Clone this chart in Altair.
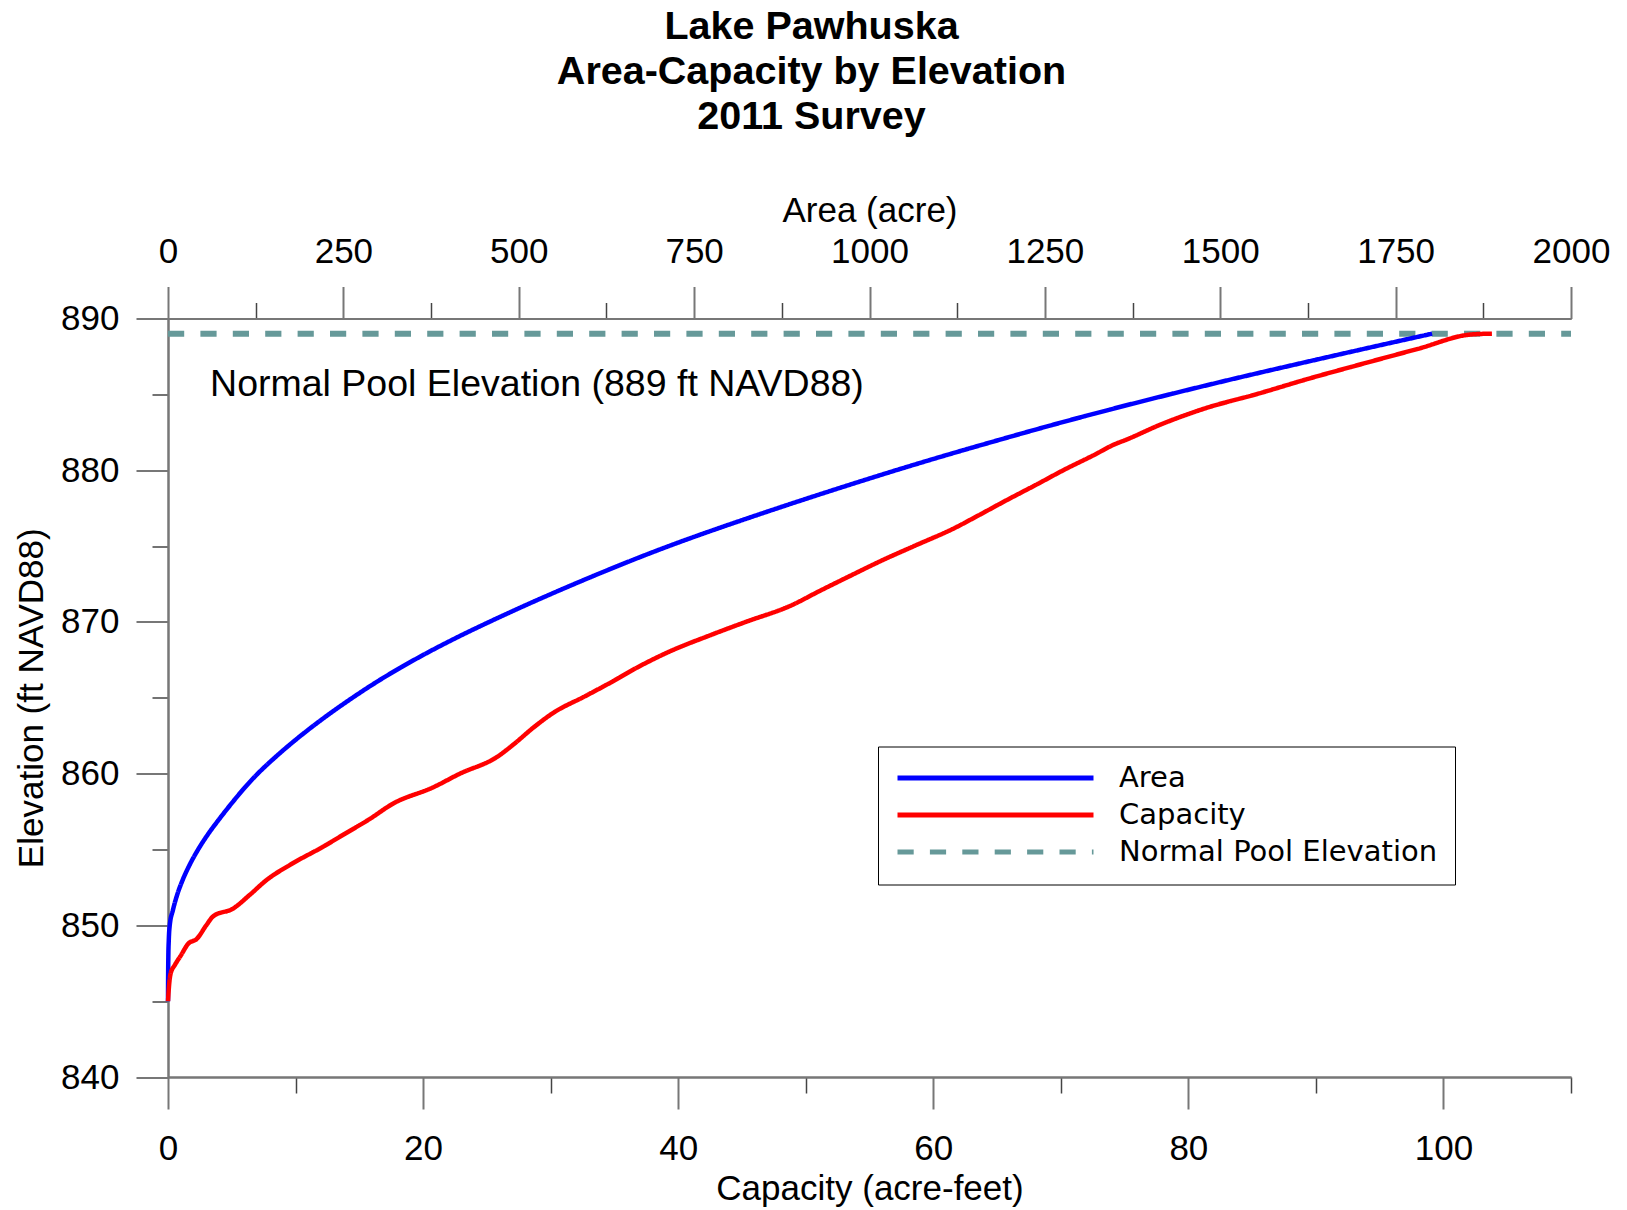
import altair as alt
import pandas as pd

# ---------------- data ----------------
title_lines = ["Lake Pawhuska", "Area-Capacity by Elevation", "2011 Survey"]
series_names = ["Area", "Capacity", "Normal Pool Elevation"]
series_colors = ["#0000ff", "#ff0000", "#669999"]

elev_area = [845, 846, 847, 848, 849, 850, 851, 852, 853, 854, 855, 856, 857, 858, 859,
             860, 861, 862, 863, 864, 865, 866, 867, 868, 869, 870, 871, 872, 873, 874,
             875, 876, 877, 878, 879, 880, 881, 882, 883, 884, 885, 886, 887, 888, 889]
area_vals = [0, 0.1, 0.25, 0.5, 1.1, 2.5, 7, 13, 21, 31, 43, 57, 73, 90, 108,
             128, 151, 176, 203, 232, 263, 296, 332, 371, 413, 458, 505, 554, 605, 658,
             714, 774, 837, 902, 969, 1038, 1110, 1185, 1262, 1343, 1428, 1517, 1610, 1705, 1802]

elev_cap = [845, 846, 846.8, 847.4, 848, 848.8, 849.1, 850, 850.6, 851.1,
            852, 853, 854, 855.2, 856, 857, 858, 859.1, 860, 861.1,
            862, 863, 864, 865.1, 866, 867, 868, 869.15, 870, 871.1,
            872, 873, 874.1, 875, 876.2, 877, 878, 879.1, 880, 881,
            881.7, 882, 883, 884.1, 885, 886, 887, 888, 888.95, 889]
cap_vals = [0, 0.08, 0.2, 0.55, 1.0, 1.6, 2.25, 3.0, 3.55, 5.1,
            6.4, 7.75, 9.6, 12.2, 13.8, 15.8, 17.6, 20.8, 22.9, 25.8,
            27.2, 28.6, 30.2, 32.7, 34.7, 36.8, 39.2, 42.6, 45.3, 48.9,
            51.0, 53.4, 56.1, 58.5, 61.7, 63.5, 65.7, 68.2, 70.2, 72.6,
            74.2, 75.1, 77.8, 81.4, 85.3, 89.3, 93.6, 98.0, 102.2, 103.8]

pool_elev = 889
pool_cap = [0, 110]
pool_label = "Normal Pool Elevation (889 ft NAVD88)"
pool_label_pos = (3.3, 885.6)  # capacity, elevation

cap_ticks = [0, 20, 40, 60, 80, 100]
cap_minor = [10, 30, 50, 70, 90, 110]
area_ticks = [0, 250, 500, 750, 1000, 1250, 1500, 1750, 2000]
area_minor = [125, 375, 625, 875, 1125, 1375, 1625, 1875]
elev_ticks = [840, 850, 860, 870, 880, 890]
elev_minor = [845, 855, 865, 875, 885]

# ---------------- tables ----------------
area_df = pd.DataFrame({"elev": elev_area, "area": area_vals, "series": series_names[0]})
cap_df = pd.DataFrame({"elev": elev_cap, "capacity": cap_vals, "series": series_names[1]})
pool_df = pd.DataFrame({"capacity": pool_cap, "elev": [pool_elev] * len(pool_cap),
                        "series": series_names[2]})
note_df = pd.DataFrame({"label": [pool_label]})

FONT = "Liberation Sans"
AX = "#777777"
FS = 35

cap_scale = alt.Scale(domain=[0, 110], nice=False, zero=False)
area_scale = alt.Scale(domain=[0, 2000], nice=False, zero=False)
y_scale = alt.Scale(domain=[840, 890], nice=False, zero=False)


def major_axis(orient, values, title, label_pad, title_pad):
    return alt.Axis(orient=orient, values=values, title=title, tickSize=32, tickWidth=2,
                    tickColor=AX, domainColor=AX, domainWidth=2, grid=False,
                    labelFont=FONT, labelFontSize=FS, labelColor="black",
                    labelPadding=label_pad, labelFlush=False, labelOverlap=False,
                    titleFont=FONT, titleFontSize=FS, titleFontWeight="normal",
                    titleColor="black", titlePadding=title_pad, format="d")


def minor_axis(orient, values):
    return alt.Axis(orient=orient, values=values, title=None, tickSize=16, tickWidth=1.5,
                    tickColor="#444444", domainColor=AX, domainWidth=2, grid=False,
                    labels=False)


legend = alt.Legend(title=None, orient="none", legendX=710, legendY=428,
                    symbolType="stroke", symbolSize=38416, symbolStrokeWidth=5,
                    clipHeight=29, labelFont="DejaVu Sans", labelFontSize=29,
                    labelColor="black", labelOffset=23, labelLimit=900, rowPadding=7,
                    padding=17, strokeColor="black", fillColor="white")

color = alt.Color("series:N", scale=alt.Scale(domain=series_names, range=series_colors),
                  legend=legend)
dash = alt.StrokeDash("series:N",
                      scale=alt.Scale(domain=series_names,
                                      range=[[1, 0], [1, 0], [16.2, 16.2]]),
                      legend=legend)

pool = alt.Chart(pool_df).mark_line(strokeWidth=6).encode(
    x=alt.X("capacity:Q", scale=cap_scale, axis=minor_axis("bottom", cap_minor)),
    y=alt.Y("elev:Q", scale=y_scale, axis=None),
    color=color, strokeDash=dash)

ghost = alt.Chart(area_df).mark_line(opacity=0).encode(
    x=alt.X("area:Q", scale=area_scale, axis=minor_axis("top", area_minor)),
    y=alt.Y("elev:Q", scale=y_scale, axis=minor_axis("left", elev_minor)))

blue = alt.Chart(area_df).mark_line(strokeWidth=4.5, interpolate="monotone").encode(
    x=alt.X("area:Q", scale=area_scale,
            axis=major_axis("top", area_ticks, "Area (acre)", 16.6, 6)),
    y=alt.Y("elev:Q", scale=y_scale, axis=None),
    color=color, strokeDash=dash)

note = alt.Chart(note_df).mark_text(font=FONT, fontSize=37.5, align="left",
                                    baseline="middle", color="black").encode(
    x=alt.XDatum(pool_label_pos[0], type="quantitative", scale=cap_scale, axis=None),
    y=alt.YDatum(pool_label_pos[1], type="quantitative", scale=y_scale, axis=None),
    text="label:N")

red = alt.Chart(cap_df).mark_line(strokeWidth=4.5, interpolate="monotone").encode(
    x=alt.X("capacity:Q", scale=cap_scale,
            axis=major_axis("bottom", cap_ticks, "Capacity (acre-feet)", 22.3, 5)),
    y=alt.Y("elev:Q", scale=y_scale,
            axis=major_axis("left", elev_ticks, "Elevation (ft NAVD88)", 17, 11)),
    color=color, strokeDash=dash)

chart = alt.layer(pool, ghost, blue, note, red).resolve_scale(
    x="independent").resolve_axis(y="independent").properties(
    width=1403, height=758.5,
    title=alt.TitleParams(text=title_lines, font=FONT, fontSize=39.5, fontWeight="bold",
                          color="black", anchor="middle", lineHeight=45, offset=56,
                          dx=-58),
    autosize=alt.AutoSizeParams(type="none"),
    padding={"left": 160, "top": 310.5, "right": 48, "bottom": 132},
    background="white",
).configure_view(strokeWidth=0)

chart.save("out.html", embed_options={"renderer": "svg", "actions": False})
